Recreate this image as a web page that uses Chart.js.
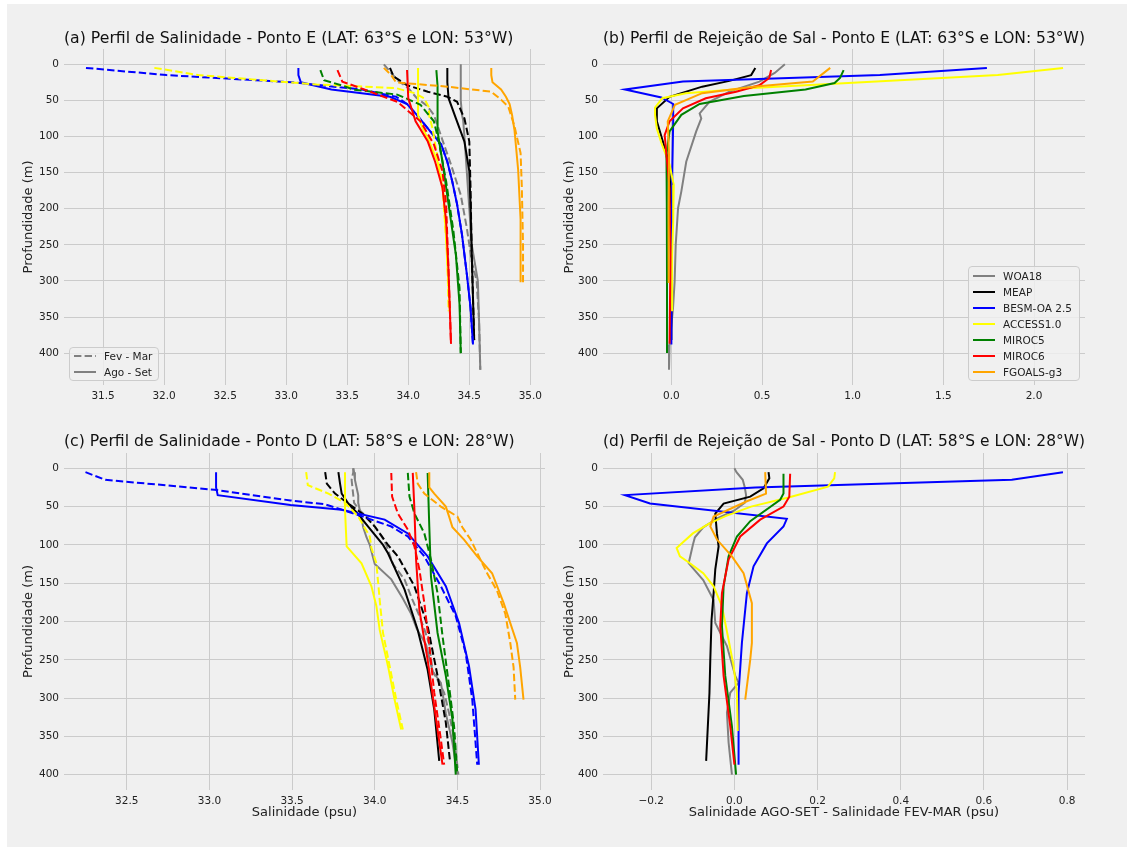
<!DOCTYPE html>
<html lang="pt">
<head>
<meta charset="UTF-8">
<title>Perfis de Salinidade e Rejeição de Sal</title>
<script src="https://cdn.jsdelivr.net/npm/chart.js"></script>
<style>
  body { margin: 0; background: #fff; font-family: 'DejaVu Sans', sans-serif; }
  #fig { position: absolute; left: 7px; top: 4px; width: 1120px; height: 843px; background: #f0f0f0; }
  canvas { position: absolute; }
  .legend { position: absolute; box-sizing: border-box; border: 1px solid #cccccc; border-radius: 4px;
            background: rgba(240,240,240,0.8); font-size: 10.5px; color: #222; }
  .legend .row { position: absolute; left: 0; right: 0; height: 16px; line-height: 16px; white-space: nowrap; }
  .legend svg { position: absolute; top: 0; }
  .legend span { position: absolute; }
</style>
</head>
<body>
<div id="fig"></div>
<canvas id="chartA" width="560" height="415" style="left:0;top:0"></canvas>
<canvas id="chartB" width="567" height="415" style="left:560px;top:0"></canvas>
<canvas id="chartC" width="560" height="432" style="left:0;top:415px"></canvas>
<canvas id="chartD" width="567" height="432" style="left:560px;top:415px"></canvas>

<script>
const models = ['WOA18', 'MEAP', 'BESM-OA 2.5', 'ACCESS1.0', 'MIROC5', 'MIROC6', 'FGOALS-g3'];
const colors = ['gray', 'black', 'blue', 'yellow', 'green', 'red', 'orange'];

const depthTicks = [0, 50, 100, 150, 200, 250, 300, 350, 400];
const ticksA = [31.5, 32.0, 32.5, 33.0, 33.5, 34.0, 34.5, 35.0];
const ticksB = [0.0, 0.5, 1.0, 1.5, 2.0];
const ticksC = [32.5, 33.0, 33.5, 34.0, 34.5, 35.0];
const ticksD = [-0.2, 0.0, 0.2, 0.4, 0.6, 0.8];

// Ponto E, Fev-Mar: [salinidade, profundidade], one profile per model
const salFevE = [
  [[33.80,0],[33.86,12],[33.91,22],[34.00,33],[34.07,47],[34.15,57],[34.21,70],[34.27,100],[34.35,139],[34.43,181],[34.48,227],[34.52,273],[34.56,300],[34.58,356],[34.59,423]],
  [[33.85,5],[33.88,17],[33.99,29],[34.16,38],[34.32,45],[34.40,52],[34.46,75],[34.50,107],[34.51,171],[34.52,264],[34.54,382]],
  [[31.36,5],[32.02,15],[33.05,25],[33.62,35],[33.90,45],[33.99,55],[34.07,70],[34.18,93],[34.27,111],[34.32,135],[34.36,162],[34.40,194],[34.44,236],[34.48,291],[34.51,337],[34.53,388]],
  [[31.92,5],[32.28,15],[33.25,28],[33.90,33],[34.05,40],[34.13,47],[34.17,60],[34.17,70],[34.20,90],[34.22,110],[34.25,139],[34.28,167],[34.30,218],[34.32,264],[34.33,342]],
  [[33.28,8],[33.31,22],[33.47,30],[33.55,35],[33.91,42],[34.10,56],[34.21,79],[34.25,107],[34.31,162],[34.37,231],[34.42,310],[34.43,400]],
  [[33.42,8],[33.46,24],[33.64,35],[33.91,52],[34.10,79],[34.21,111],[34.28,148],[34.31,194],[34.33,287],[34.35,387]],
  [[33.80,5],[33.86,15],[33.90,25],[34.32,31],[34.68,38],[34.76,49],[34.82,59],[34.87,86],[34.92,123],[34.93,169],[34.94,250],[34.94,302]]
];

// Ponto E, Ago-Set
const salAgoE = [
  [[34.43,0],[34.43,25],[34.43,50],[34.44,70],[34.45,78],[34.46,100],[34.48,150],[34.50,200],[34.52,250],[34.56,290],[34.57,300],[34.58,356],[34.59,423]],
  [[34.32,5],[34.32,25],[34.33,47],[34.39,75],[34.46,107],[34.50,148],[34.51,194],[34.52,264],[34.54,382]],
  [[33.10,5],[33.10,15],[33.12,25],[33.37,35],[33.85,45],[33.99,55],[34.07,70],[34.18,93],[34.27,111],[34.32,135],[34.36,162],[34.40,194],[34.44,236],[34.48,291],[34.51,337],[34.53,388]],
  [[34.08,5],[34.08,25],[34.08,50],[34.08,70],[34.12,90],[34.16,102],[34.24,135],[34.29,181],[34.31,241],[34.33,310],[34.34,342]],
  [[34.23,8],[34.24,30],[34.24,60],[34.24,93],[34.28,135],[34.33,194],[34.39,264],[34.42,333],[34.43,400]],
  [[33.99,8],[34.00,47],[34.06,79],[34.16,107],[34.22,135],[34.28,171],[34.31,217],[34.33,287],[34.35,387]],
  [[34.68,5],[34.68,15],[34.69,25],[34.76,35],[34.80,45],[34.83,55],[34.85,70],[34.87,91],[34.90,146],[34.92,215],[34.92,302]]
];

// Ponto E, Ago-Set menos Fev-Mar
const difE = [
  [[0.626,0],[0.57,12],[0.485,24],[0.32,38],[0.21,52],[0.156,68],[0.165,75],[0.137,93],[0.082,135],[0.055,176],[0.037,199],[0.024,250],[0.018,301],[0.009,338],[-0.01,388],[-0.013,423]],
  [[0.463,5],[0.44,15],[0.32,23],[0.17,31],[-0.01,45],[-0.08,61],[-0.08,79],[-0.055,100],[-0.03,121],[-0.01,150],[0.0,200],[0.0,300],[0.0,382]],
  [[1.74,5],[1.15,15],[0.064,24],[-0.256,35],[-0.055,46],[0.01,55],[0.01,79],[0.005,150],[0.002,250],[0.0,388]],
  [[2.16,5],[1.8,15],[0.82,28],[0.45,33],[0.08,40],[-0.05,47],[-0.09,60],[-0.09,70],[-0.08,89],[-0.055,109],[-0.01,139],[0.013,167],[0.01,218],[0.004,264],[0.004,342]],
  [[0.95,8],[0.93,19],[0.9,26],[0.74,35],[0.4,44],[0.156,55],[0.055,70],[-0.01,93],[-0.027,125],[-0.025,200],[-0.024,300],[-0.024,400]],
  [[0.55,8],[0.54,19],[0.485,29],[0.357,38],[0.19,47],[0.064,61],[-0.01,79],[-0.037,98],[-0.027,125],[-0.01,172],[-0.005,264],[-0.01,387]],
  [[0.876,5],[0.78,24],[0.45,31],[0.17,40],[0.02,56],[-0.02,79],[-0.013,125],[-0.015,200],[-0.015,303]]
];

// Ponto D, Fev-Mar
const salFevD = [
  [[33.87,0],[33.87,5],[33.86,15],[33.865,25],[33.87,35],[33.875,45],[33.91,55],[33.96,65],[34.005,77],[34.045,90],[34.07,100],[34.11,125],[34.18,145],[34.225,170],[34.265,190],[34.30,210],[34.33,230],[34.35,265],[34.39,280],[34.42,293],[34.45,320],[34.484,358],[34.506,400]],
  [[33.70,5],[33.71,20],[33.76,33],[33.84,46],[33.93,60],[34.00,76],[34.08,100],[34.14,115],[34.24,154],[34.32,206],[34.38,271],[34.43,332],[34.455,382]],
  [[32.25,5],[32.37,15],[33.03,28],[33.49,42],[33.70,47],[33.90,61],[34.10,76],[34.20,89],[34.30,115],[34.40,154],[34.49,193],[34.55,241],[34.59,302],[34.62,387]],
  [[33.585,5],[33.595,22],[33.72,33],[33.82,45],[33.90,63],[33.97,89],[33.98,104],[34.01,124],[34.03,172],[34.05,215],[34.09,258],[34.13,302],[34.17,341]],
  [[34.20,6],[34.21,37],[34.24,59],[34.30,85],[34.34,119],[34.38,163],[34.41,219],[34.45,285],[34.48,337],[34.50,400]],
  [[34.10,6],[34.105,37],[34.14,59],[34.20,80],[34.24,102],[34.27,132],[34.30,176],[34.33,232],[34.36,293],[34.40,354],[34.42,387]],
  [[34.25,5],[34.26,20],[34.30,33],[34.40,50],[34.50,63],[34.53,77],[34.58,93],[34.63,115],[34.68,137],[34.74,160],[34.79,190],[34.82,228],[34.84,260],[34.85,302]]
];

// Ponto D, Ago-Set
const salAgoD = [
  [[33.87,0],[33.875,5],[33.88,15],[33.89,25],[33.90,35],[33.90,45],[33.91,55],[33.92,65],[33.93,77],[33.95,90],[33.97,100],[34.00,125],[34.10,145],[34.17,170],[34.22,190],[34.255,210],[34.31,230],[34.35,265],[34.40,280],[34.41,293],[34.43,320],[34.47,358],[34.50,400]],
  [[33.78,5],[33.79,20],[33.80,33],[33.84,46],[33.90,60],[33.96,76],[34.05,100],[34.08,111],[34.18,158],[34.26,211],[34.32,263],[34.36,315],[34.39,382]],
  [[33.04,5],[33.04,15],[33.04,25],[33.05,35],[33.49,48],[33.80,54],[34.06,67],[34.20,85],[34.32,115],[34.43,154],[34.51,202],[34.57,258],[34.61,315],[34.63,387]],
  [[33.82,5],[33.82,25],[33.82,54],[33.83,102],[33.92,124],[33.98,154],[34.01,180],[34.03,211],[34.08,258],[34.12,302],[34.16,341]],
  [[34.32,6],[34.33,76],[34.34,141],[34.38,215],[34.43,271],[34.47,328],[34.49,400]],
  [[34.23,6],[34.24,54],[34.25,119],[34.27,185],[34.32,250],[34.36,311],[34.41,387]],
  [[34.33,5],[34.33,25],[34.36,33],[34.43,50],[34.45,63],[34.47,77],[34.54,93],[34.62,115],[34.71,137],[34.78,176],[34.86,228],[34.88,260],[34.90,302]]
];

// Ponto D, Ago-Set menos Fev-Mar
const difD = [
  [[0.0,0],[0.005,5],[0.02,15],[0.025,25],[0.028,35],[0.025,45],[0.0,55],[-0.04,65],[-0.075,77],[-0.095,90],[-0.10,100],[-0.11,124],[-0.075,146],[-0.05,172],[-0.046,202],[-0.018,232],[0.002,271],[0.01,280],[-0.01,293],[-0.018,319],[-0.014,358],[-0.006,400]],
  [[0.082,5],[0.084,13],[0.07,26],[0.038,37],[-0.026,46],[-0.046,59],[-0.042,85],[-0.038,102],[-0.046,132],[-0.05,163],[-0.055,198],[-0.058,250],[-0.06,293],[-0.068,382]],
  [[0.79,5],[0.667,15],[0.05,25],[-0.263,35],[-0.203,46],[0.126,66],[0.118,76],[0.078,98],[0.046,128],[0.03,163],[0.018,228],[0.01,293],[0.01,387]],
  [[0.242,5],[0.24,13],[0.225,24],[0.13,38],[0.04,50],[-0.02,62],[-0.06,72],[-0.10,85],[-0.139,104],[-0.131,115],[-0.107,124],[-0.075,137],[-0.05,154],[-0.03,180],[-0.014,224],[-0.002,258],[0.006,293],[0.008,343]],
  [[0.118,7],[0.118,33],[0.11,41],[0.038,69],[0.006,89],[-0.014,115],[-0.026,154],[-0.03,206],[-0.022,271],[-0.006,337],[0.004,400]],
  [[0.134,7],[0.132,37],[0.118,50],[0.062,67],[0.014,89],[-0.014,119],[-0.03,163],[-0.034,206],[-0.026,271],[-0.01,337],[0.0,387]],
  [[0.074,5],[0.076,33],[0.03,43],[-0.05,63],[-0.058,76],[-0.042,93],[-0.006,115],[0.022,137],[0.042,176],[0.042,228],[0.038,250],[0.026,302]]
];

const FONT = "'DejaVu Sans', sans-serif";
const GRID = '#cbcbcb';
const TEXT = '#222';

function line(points, color, dashed) {
  return {
    data: points.map(p => ({ x: p[0], y: p[1] })),
    borderColor: color,
    backgroundColor: color,
    borderWidth: 2,
    borderDash: dashed ? [7.4, 3.2] : [],
    showLine: true,
    pointRadius: 0,
    pointHoverRadius: 0,
    tension: 0
  };
}

function fmt(v, decimals) {
  const s = Math.abs(v).toFixed(decimals);
  return (v < -1e-9 ? '\u2212' : '') + s;
}

// salinity panels: dashed Fev-Mar and solid Ago-Set per model, later models on top
function seasonSets(fev, ago) {
  const sets = [];
  models.forEach((m, i) => {
    sets.push(line(fev[i], colors[i], true));
    sets.push(line(ago[i], colors[i], false));
  });
  return sets.reverse();
}

function diffSets(dif) {
  return models.map((m, i) => line(dif[i], colors[i], false)).reverse();
}

function makeChart(id, datasets, cfg) {
  return new Chart(document.getElementById(id), {
    type: 'scatter',
    data: { datasets },
    options: {
      responsive: false,
      animation: false,
      events: [],
      layout: { padding: { left: 0, top: 0, right: cfg.padRight, bottom: 0 } },
      plugins: {
        legend: { display: false },
        tooltip: { enabled: false },
        title: {
          display: true,
          text: cfg.title,
          fullSize: false,
          align: 'start',
          color: '#111',
          font: { family: FONT, size: 15.7, weight: 'normal', lineHeight: 1.2 },
          padding: { top: cfg.titleTop, bottom: cfg.titleBottom }
        }
      },
      scales: {
        x: {
          type: 'linear',
          min: cfg.xRange[0],
          max: cfg.xRange[1],
          afterBuildTicks: s => { s.ticks = cfg.xTicks.map(v => ({ value: v })); },
          afterFit: s => { s.height = cfg.xHeight; },
          grid: { color: GRID, lineWidth: 1, drawTicks: false },
          border: { display: false },
          ticks: {
            color: TEXT, padding: 5, maxRotation: 0, autoSkip: false,
            font: { family: FONT, size: 10.5 },
            callback: v => fmt(v, 1)
          },
          title: {
            display: !!cfg.xTitle,
            text: cfg.xTitle || '',
            color: TEXT,
            font: { family: FONT, size: 13, lineHeight: 1.2 },
            padding: { top: 0, bottom: 26.2 }
          }
        },
        y: {
          type: 'linear',
          reverse: true,
          min: cfg.yRange[0],
          max: cfg.yRange[1],
          afterBuildTicks: s => { s.ticks = depthTicks.map(v => ({ value: v })); },
          afterFit: s => { s.width = cfg.yWidth; },
          grid: { color: GRID, lineWidth: 1, drawTicks: false },
          border: { display: false },
          ticks: {
            color: TEXT, padding: 5, autoSkip: false,
            font: { family: FONT, size: 10.5 },
            callback: v => String(v)
          },
          title: {
            display: true,
            text: 'Profundidade (m)',
            color: TEXT,
            font: { family: FONT, size: 13, lineHeight: 1.2 },
            padding: { top: cfg.yTitlePad, bottom: 0 }
          }
        }
      }
    }
  });
}

const topRow = { yRange: [-21.15, 444.15], titleTop: 29.1, titleBottom: 1.06, xHeight: 30 };
const bottomRow = { yRange: [-20, 420], titleTop: 17.6, titleBottom: 1.56, xHeight: 57 };
const leftCol = { yWidth: 64, padRight: 15, yTitlePad: 21.2 };
const rightCol = { yWidth: 43, padRight: 42, yTitlePad: 2.2 };

makeChart('chartA', seasonSets(salFevE, salAgoE), Object.assign({}, topRow, leftCol, {
  title: '(a) Perfil de Salinidade - Ponto E (LAT: 63°S e LON: 53°W)',
  xRange: [31.18, 35.12], xTicks: ticksA
}));

makeChart('chartB', diffSets(difE), Object.assign({}, topRow, rightCol, {
  title: '(b) Perfil de Rejeição de Sal - Ponto E (LAT: 63°S e LON: 53°W)',
  xRange: [-0.377, 2.281], xTicks: ticksB
}));

makeChart('chartC', seasonSets(salFevD, salAgoD), Object.assign({}, bottomRow, leftCol, {
  title: '(c) Perfil de Salinidade - Ponto D (LAT: 58°S e LON: 28°W)',
  xRange: [32.12, 35.03], xTicks: ticksC, xTitle: 'Salinidade (psu)'
}));

makeChart('chartD', diffSets(difD), Object.assign({}, bottomRow, rightCol, {
  title: '(d) Perfil de Rejeição de Sal - Ponto D (LAT: 58°S e LON: 28°W)',
  xRange: [-0.316, 0.843], xTicks: ticksD, xTitle: 'Salinidade AGO-SET - Salinidade FEV-MAR (psu)'
}));

// legends drawn as html boxes on top of the plot areas
function addLegend(box, items) {
  const el = document.createElement('div');
  el.className = 'legend';
  Object.assign(el.style, { left: box.left + 'px', top: box.top + 'px', width: box.width + 'px', height: box.height + 'px' });
  items.forEach((it, k) => {
    const row = document.createElement('div');
    row.className = 'row';
    row.style.top = (box.firstRow + 16 * k - 8) + 'px';
    const dash = it.dashed ? ' stroke-dasharray="7.4 3.2"' : '';
    row.innerHTML =
      '<svg width="24" height="16" style="left:' + box.lineLeft + 'px">' +
      '<line x1="1" y1="8" x2="23" y2="8" stroke="' + it.color + '" stroke-width="2"' + dash + '/></svg>' +
      '<span style="left:' + box.textLeft + 'px">' + it.label + '</span>';
    el.appendChild(row);
  });
  document.body.appendChild(el);
}

addLegend({ left: 69, top: 347, width: 90, height: 34, firstRow: 8, lineLeft: 3, textLeft: 34 }, [
  { label: 'Fev - Mar', color: 'gray', dashed: true },
  { label: 'Ago - Set', color: 'gray', dashed: false }
]);

addLegend({ left: 968, top: 266, width: 112, height: 115, firstRow: 9, lineLeft: 3, textLeft: 34 },
  models.map((m, i) => ({ label: m, color: colors[i], dashed: false })));
</script>
</body>
</html>
